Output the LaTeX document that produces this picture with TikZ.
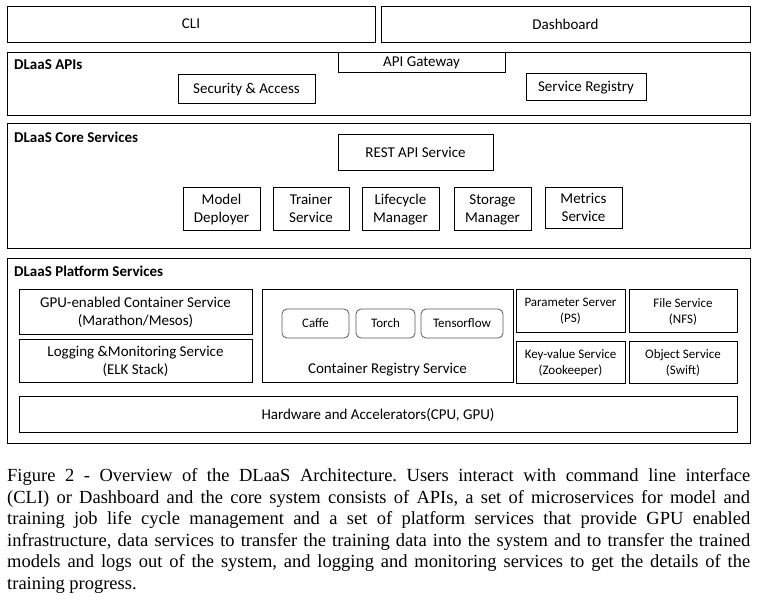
\documentclass[tikz,border=0pt]{standalone}
\usepackage{fontspec}
\setmainfont{Liberation Serif}
\newfontfamily\calib{Carlito}
\frenchspacing
\begin{document}
\begin{tikzpicture}[x=1pt,y=-1pt,
  box/.style={draw, line width=0.8pt, inner sep=0pt, outer sep=0pt, align=center, text depth=0pt,
    font=\calib\fontsize{15}{18.5}\selectfont},
  smallbox/.style={box, font=\calib\fontsize{13}{16}\selectfont},
  rbox/.style={draw=black!65, line width=0.8pt, rounded corners=5pt, inner sep=0pt, outer sep=0pt,
    font=\calib\fontsize{13}{16}\selectfont},
  grouplabel/.style={anchor=west, inner sep=0pt, font=\calib\bfseries\fontsize{15}{17}\selectfont},
  plain/.style={inner sep=0pt, font=\calib\fontsize{15}{18}\selectfont}]
\useasboundingbox[fill=white] (0,0) rectangle (758,602);

% top row
\node[box, minimum width=368pt, minimum height=36pt] (cli) at (191,24) {CLI};
\node[box, minimum width=369pt, minimum height=36pt] (dash) at (565.5,24) {Dashboard};

% APIs
\node[box, minimum width=743pt, minimum height=63pt] (apis) at (378.5,83.5) {};
\node[grouplabel] (apislabel) at (14,65) {DLaaS APIs};
\node[box, minimum width=167pt, minimum height=20pt] (gateway) at (421.5,62) {API Gateway};
\node[box, minimum width=137pt, minimum height=29pt] (security) at (246.5,88.5) {Security \& Access};
\node[box, minimum width=120pt, minimum height=27pt] (registry) at (586,86.5) {Service Registry};

% Core services
\node[box, minimum width=743pt, minimum height=125pt] (core) at (378.5,185.5) {};
\node[grouplabel] (corelabel) at (14,137) {DLaaS Core Services};
\node[box, minimum width=155pt, minimum height=36pt] (rest) at (415.5,152) {REST API Service};
\node[box, minimum width=77pt, minimum height=43pt] (model) at (221.5,208.5) {Model\\Deployer};
\node[box, minimum width=76pt, minimum height=43pt] (trainer) at (311,208.5) {Trainer\\Service};
\node[box, minimum width=77pt, minimum height=43pt] (lifecycle) at (400.5,208.5) {Lifecycle\\Manager};
\node[box, minimum width=77pt, minimum height=43pt] (storage) at (492.5,208.5) {Storage\\Manager};
\node[box, minimum width=77pt, minimum height=41pt] (metrics) at (583.5,207.5) {Metrics\\Service};

% Platform services
\node[box, minimum width=743pt, minimum height=185pt] (platform) at (378.5,350.5) {};
\node[grouplabel] (platlabel) at (14,271) {DLaaS Platform Services};
\node[box, minimum width=233pt, minimum height=45pt] (gpu) at (135.5,311.5) {GPU-enabled Container Service\\(Marathon/Mesos)};
\node[box, minimum width=233pt, minimum height=43pt] (logging) at (135.5,360.5) {Logging \&Monitoring Service\\(ELK Stack)};
\node[box, minimum width=251pt, minimum height=93pt] (contreg) at (387.5,335.5) {};
\node[plain] (contreglabel) at (387.5,369.5) {Container Registry Service};
\node[rbox, minimum width=67pt, minimum height=29pt] (caffe) at (315.5,323.5) {Caffe};
\node[rbox, minimum width=59pt, minimum height=29pt] (torch) at (385.5,323.5) {Torch};
\node[rbox, minimum width=82pt, minimum height=29pt] (tensorflow) at (462,323.5) {Tensorflow};
\node[smallbox, minimum width=109pt, minimum height=43pt] (ps) at (570.5,310.5) {Parameter Server\\(PS)};
\node[smallbox, minimum width=108pt, minimum height=43pt] (file) at (683,310.5) {File Service\\(NFS)};
\node[smallbox, minimum width=109pt, minimum height=42pt] (kv) at (570.5,362) {Key-value Service\\(Zookeeper)};
\node[smallbox, minimum width=108pt, minimum height=42pt] (object) at (683,362) {Object Service\\(Swift)};
\node[box, minimum width=718pt, minimum height=36pt] (hw) at (378,414) {Hardware and Accelerators(CPU, GPU)};

% caption
\node[anchor=north west, inner sep=0pt, align=left, font=\fontsize{18.5}{21.6}\selectfont] (caption) at (7,468.3) {%
\makebox[743pt][s]{Figure 2 - Overview of the DLaaS Architecture. Users interact with command line interface}\\
\makebox[743pt][s]{(CLI) or Dashboard and the core system consists of APIs, a set of microservices for model and}\\
\makebox[743pt][s]{training job life cycle management and a set of platform services that provide GPU enabled}\\
\makebox[743pt][s]{infrastructure, data services to transfer the training data into the system and to transfer the trained}\\
\makebox[743pt][s]{models and logs out of the system, and logging and monitoring services to get the details of the}\\
training progress.};
\end{tikzpicture}
\end{document}
